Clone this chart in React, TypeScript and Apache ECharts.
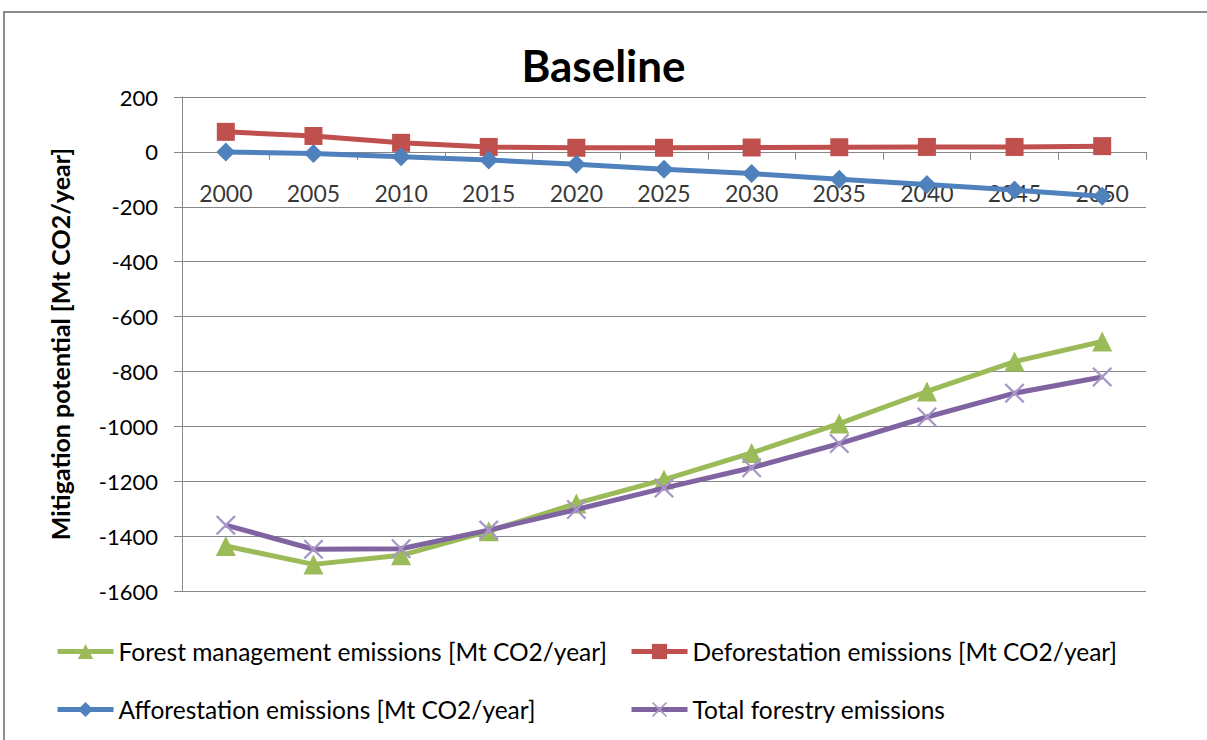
import React, { useEffect, useRef } from "react";
import * as echarts from "echarts";

const years = ["2000", "2005", "2010", "2015", "2020", "2025", "2030", "2035", "2040", "2045", "2050"];
const forestManagement = [-1436, -1503, -1470, -1382, -1281, -1194, -1097, -990, -873, -764, -691];
const deforestation = [73, 58, 33, 18, 15, 15, 16, 17, 18, 18, 21];
const afforestation = [0, -6, -18, -30, -45, -63, -79, -100, -119, -139, -162];
const totalForestry = [-1360, -1448, -1446, -1378, -1303, -1225, -1151, -1063, -966, -879, -820];
const axisCross = years.map(() => 0);

const names = [
  "Forest management emissions [Mt CO2/year]",
  "Deforestation emissions [Mt CO2/year]",
  "Afforestation emissions [Mt CO2/year]",
  "Total forestry emissions",
];

const FONT = "Lato";
const xPath =
  "path://M0,0.8L0.8,0L5,4.2L9.2,0L10,0.8L5.8,5L10,9.2L9.2,10L5,5.8L0.8,10L0,9.2L4.2,5Z";

export default function App() {
  const ref = useRef<HTMLDivElement>(null);
  useEffect(() => {
    if (!ref.current) return;
    const chart = echarts.init(ref.current, null, { renderer: "svg" });
    const legendText = { fontFamily: FONT, fontSize: 24.5, color: "#000" };
    const legendBase = {
      orient: "vertical",
      top: 634,
      itemGap: 33,
      itemWidth: 56,
      itemHeight: 19,
      textStyle: legendText,
      lineStyle: { width: 5 },
    };
    chart.setOption({
      animation: false,
      backgroundColor: "#fff",
      title: {
        text: "Baseline",
        left: "center",
        top: 38,
        textStyle: { fontFamily: FONT, fontSize: 44, fontWeight: "bold", color: "#000" },
      },
      graphic: [
        {
          type: "rect",
          shape: { x: 4, y: 12, width: 1220, height: 760 },
          style: { fill: "none", stroke: "#8c8c8c", lineWidth: 2 },
          silent: true,
        },
      ],
      legend: [
        { ...legendBase, left: 50, data: [names[0], names[2]] },
        { ...legendBase, left: 624, data: [names[1], names[3]] },
      ],
      grid: { left: 182, top: 97, right: 61, bottom: 149, containLabel: false },
      xAxis: {
        type: "category",
        data: years,
        boundaryGap: true,
        axisLine: { onZero: true, lineStyle: { color: "#868686", width: 1 } },
        axisTick: { show: true, length: 8, lineStyle: { color: "#868686" } },
        axisLabel: { show: false },
        splitLine: { show: false },
      },
      yAxis: {
        type: "value",
        min: -1600,
        max: 200,
        interval: 200,
        name: "Mitigation potential [Mt CO2/year]",
        nameLocation: "middle",
        nameGap: 110,
        nameTextStyle: { fontFamily: FONT, fontSize: 25, fontWeight: "bold", color: "#000" },
        axisLine: { show: true, lineStyle: { color: "#868686", width: 1 } },
        axisTick: { show: true, length: 8, lineStyle: { color: "#868686" } },
        axisLabel: {
          fontFamily: FONT,
          fontSize: 22,
          color: "#000",
          margin: 24,
          formatter: (v: number) => String(v),
        },
        splitLine: { show: true, lineStyle: { color: "#868686", width: 1 } },
      },
      series: [
        {
          name: "axisLabels",
          type: "scatter",
          data: axisCross,
          symbolSize: 0,
          silent: true,
          z: 1,
          label: {
            show: true,
            position: "bottom",
            distance: 30,
            formatter: (p: any) => years[p.dataIndex],
            fontFamily: FONT,
            fontSize: 23,
            color: "#000",
          },
        },
        {
          name: names[0],
          type: "line",
          data: forestManagement,
          symbol: "triangle",
          symbolSize: 20,
          lineStyle: { color: "#9bbb59", width: 5 },
          itemStyle: { color: "#9bbb59" },
          z: 3,
        },
        {
          name: names[1],
          type: "line",
          data: deforestation,
          symbol: "rect",
          symbolSize: 18,
          lineStyle: { color: "#c0504d", width: 5 },
          itemStyle: { color: "#c0504d" },
          z: 3,
        },
        {
          name: names[2],
          type: "line",
          data: afforestation,
          symbol: "diamond",
          symbolSize: 19,
          lineStyle: { color: "#4f81bd", width: 5 },
          itemStyle: { color: "#4f81bd" },
          z: 4,
        },
        {
          name: names[3],
          type: "line",
          data: totalForestry,
          symbol: xPath,
          symbolSize: 20,
          lineStyle: { color: "#8064a2", width: 5 },
          itemStyle: { color: "#a897c6" },
          z: 4,
        },
      ],
    });
    return () => chart.dispose();
  }, []);
  return <div ref={ref} style={{ width: 1207, height: 740, position: "absolute", left: 0, top: 0 }} />;
}
